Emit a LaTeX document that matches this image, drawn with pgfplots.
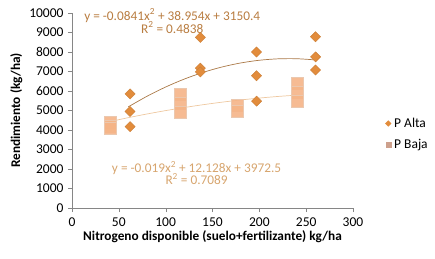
\documentclass[border=0pt]{standalone}
\usepackage{fontspec}
\setmainfont{Carlito}
\usepackage{pgfplots}
\pgfplotsset{compat=1.18}
\definecolor{alta}{RGB}{226,140,60}
\definecolor{baja}{RGB}{245,180,135}
\definecolor{bajaedge}{RGB}{235,200,175}
\definecolor{trendA}{RGB}{170,120,70}
\definecolor{trendB}{RGB}{238,200,160}
\definecolor{eqA}{RGB}{185,125,65}
\definecolor{eqB}{RGB}{215,165,110}
\definecolor{axgray}{RGB}{134,134,134}
\definecolor{legbaja}{RGB}{205,160,140}
\begin{document}
\begin{tikzpicture}
\path[use as bounding box] (0,0) rectangle (435pt,258pt);
\begin{axis}[
  at={(72pt,50pt)}, anchor=origin,
  scale only axis, width=281pt, height=195pt,
  xmin=0, xmax=300, ymin=0, ymax=10000,
  axis x line=bottom, axis y line=left,
  axis line style={axgray, -},
  xtick={0,50,...,300}, ytick={0,1000,...,10000},
  tick align=outside, major tick length=4pt,
  tick style={axgray},
  every tick label/.append style={font=\fontsize{13.5}{15}\selectfont, text=black},
  /pgf/number format/assume math mode=true,
  scaled y ticks=false,
  yticklabel style={/pgf/number format/1000 sep={}, xshift=-1pt},
  xticklabel style={yshift=-2pt},
  xlabel={\textbf{Nitrogeno disponible (suelo+fertilizante) kg/ha}},
  ylabel={\textbf{Rendimiento (kg/ha)}},
  label style={font=\fontsize{13.3}{15}\selectfont},
  xlabel style={yshift=3pt},
  ylabel style={yshift=0pt},
  legend style={at={(1.115,0.38)}, anchor=west, draw=none, fill=none,
    font=\fontsize{13.5}{15}\selectfont, row sep=6pt,
    legend cell align=left, inner xsep=0pt,
    nodes={inner xsep=3pt}},
  clip=false,
]
\addplot[only marks, mark=square*, mark size=3.6pt,
  mark options={rotate=45, fill=alta, draw=alta!90!black},
  legend image code/.code={\draw[mark=square*, mark size=2pt, mark options={rotate=45, fill=alta, draw=alta}] plot coordinates {(0.12cm,0cm)};}]
  coordinates {
  (62,5850) (62,4950) (62,4170)
  (137,8750) (137,7170) (137,6980)
  (197,8000) (197,6780) (197,5480)
  (260,8780) (260,7750) (260,7080)
  };
\addlegendentry{P Alta}
\addplot[only marks, mark=square*, mark size=6pt,
  mark options={fill=baja, draw=bajaedge, fill opacity=0.9},
  legend image code/.code={\draw[mark=square*, mark size=2.6pt, mark options={fill=legbaja, draw=legbaja}] plot coordinates {(0.12cm,0cm)};}]
  coordinates {
  (41,4400) (41,4200) (41,4100)
  (116,5850) (116,5350) (116,4900)
  (176,5250) (176,4980)
  (240,6400) (240,5950) (240,5500)
  };
\addlegendentry{P Baja}
\addplot[trendA, line width=0.7pt, smooth, forget plot] coordinates {
  (60,5184.8) (80,5728.5) (100,6204.8) (120,6613.9) (140,6955.6)
  (160,7230.0) (180,7437.3) (200,7577.2) (220,7649.9) (240,7655.2) (260,7593.2)
};
\addplot[trendB, line width=0.7pt, smooth, forget plot] coordinates {
  (40,4427.2) (60,4631.8) (80,4821.1) (100,4995.3) (120,5154.3)
  (140,5298.0) (160,5426.6) (180,5539.9) (200,5638.1) (220,5721.1) (240,5788.8)
};
\node[text=eqA, font=\fontsize{13.3}{15}\selectfont, align=center, anchor=north]
  at (axis cs:107,10400) {y = -0.0841x\textsuperscript{2} + 38.954x + 3150.4\\[-2pt] R\textsuperscript{2} = 0.4838};
\node[text=eqB, font=\fontsize{13.3}{15}\selectfont, align=center]
  at (axis cs:133,1800) {y = -0.019x\textsuperscript{2} + 12.128x + 3972.5\\[-3pt] R\textsuperscript{2} = 0.7089};
\end{axis}
\end{tikzpicture}
\end{document}
